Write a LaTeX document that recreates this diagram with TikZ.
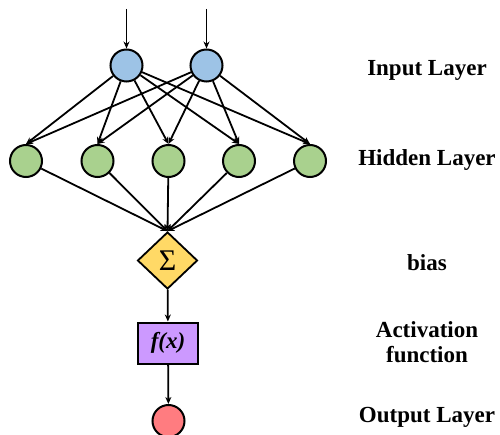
\documentclass[tikz,border=0pt]{standalone}
\usepackage{fontspec}
\setmainfont{Liberation Serif}
\usetikzlibrary{arrows.meta,shapes.geometric}
\definecolor{inblue}{HTML}{9DC3E6}
\definecolor{hidgreen}{HTML}{A9D18E}
\definecolor{sumyellow}{HTML}{FFD966}
\definecolor{actpurple}{HTML}{CC99FF}
\definecolor{outred}{HTML}{FF7C80}
\tikzset{
  neuron/.style={circle,draw=black,line width=2pt,minimum size=32pt,inner sep=0pt},
  conn/.style={line width=1.8pt,-{Stealth[length=7pt,width=6pt]}},
  lab/.style={font=\bfseries\fontsize{23}{25}\selectfont,align=center},
}
\begin{document}
\begin{tikzpicture}[x=1pt,y=-1pt]
\useasboundingbox (0,0) rectangle (500,435);
% input
\node[neuron,fill=inblue] (i1) at (126.5,65.5) {};
\node[neuron,fill=inblue] (i2) at (206.5,65.5) {};
\coordinate (t1) at (126.5,9);
\coordinate (t2) at (206.5,9);
\draw[conn] (t1) -- (i1);
\draw[conn] (t2) -- (i2);
% hidden
\foreach \k/\x in {1/26,2/97.5,3/168.5,4/239,5/310}{
  \node[neuron,fill=hidgreen] (h\k) at (\x,161) {};
}
% sum
\node[diamond,draw=black,line width=1.8pt,fill=sumyellow,minimum width=60pt,minimum height=57pt,inner sep=0pt] (s) at (167.5,260.5) {\fontsize{30}{30}\selectfont Σ};
% activation
\node[rectangle,draw=black,line width=2pt,fill=actpurple,minimum width=60pt,minimum height=41pt,inner sep=0pt] (f) at (168,343) {\bfseries\itshape\fontsize{23}{23}\selectfont f(x)};
% output
\node[neuron,fill=outred] (o) at (168.5,421) {};
% connections input -> hidden
\foreach \i in {1,2}{
  \foreach \k in {1,...,5}{
    \draw[conn] (i\i) -- (h\k.north);
  }
}
% hidden -> sum
\foreach \k in {1,...,5}{
  \draw[conn] (h\k) -- (s.north);
}
\draw[conn] (s) -- (f);
\draw[conn] (f) -- (o);
% labels
\node[lab] (l1) at (427,70) {Input Layer};
\node[lab] (l2) at (427,160) {Hidden Layer};
\node[lab] (l3) at (427,263) {bias};
\node[lab] (l4) at (427,342) {Activation\\function};
\node[lab] (l5) at (427,417) {Output Layer};
\end{tikzpicture}
\end{document}
